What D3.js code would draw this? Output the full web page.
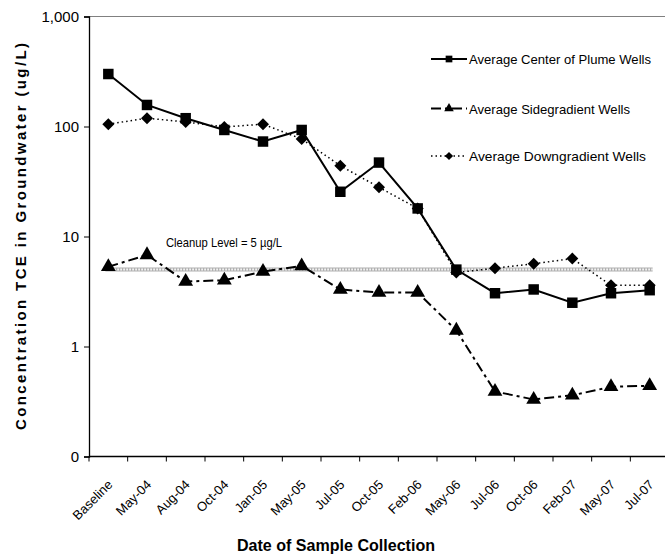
<!DOCTYPE html>
<html>
<head>
<meta charset="utf-8">
<script src="https://cdn.jsdelivr.net/npm/d3@7"></script>
<style>
    body { margin: 0; background: #fff; }
    svg { display: block; font-family: Arial, "Liberation Sans", sans-serif; }
</style>
</head>
<body>
<script>
"use strict";

var dates = ["Baseline", "May-04", "Aug-04", "Oct-04", "Jan-05", "May-05", "Jul-05", "Oct-05",
             "Feb-06", "May-06", "Jul-06", "Oct-06", "Feb-07", "May-07", "Jul-07"];

var centerPlume = [300, 157, 119, 93, 73, 93, 25.5, 47, 18, 5.0, 3.05, 3.3, 2.5, 3.05, 3.25];
var sidegradient = [5.3, 6.8, 3.9, 4.0, 4.8, 5.4, 3.3, 3.1, 3.1, 1.4, 0.39, 0.33, 0.36, 0.43, 0.44];
var downgradient = [105, 119, 110, 99, 105, 77, 44, 28, 18, 4.7, 5.15, 5.65, 6.3, 3.6, 3.6];

var cleanupLevel = 5;
var yTicks = [0.1, 1, 10, 100, 1000];
var yTickLabels = ["0", "1", "10", "100", "1,000"];

var width = 665,
    height = 556;

var svg = d3.select("body").append("svg")
    .attr("width", width)
    .attr("height", height);

var xScale = d3.scaleBand()
    .domain(dates)
    .range([89, 669])
    .padding(0);

var yScale = d3.scaleLog()
    .domain([0.1, 1000])
    .range([456.5, 16.5]);

function cx(d) {
    return xScale(d) + xScale.bandwidth() / 2;
}

// top border of the plot area
svg.append("line")
    .attr("x1", 89).attr("x2", width)
    .attr("y1", yScale(1000)).attr("y2", yScale(1000))
    .attr("stroke", "#808080")
    .attr("stroke-width", 1);

// y axis
var yAxis = d3.axisLeft(yScale)
    .tickValues(yTicks)
    .tickSize(5)
    .tickPadding(5)
    .tickFormat(function(d, i) { return yTickLabels[i]; });

var gy = svg.append("g")
    .attr("transform", "translate(89,0)")
    .call(yAxis);
gy.select(".domain").attr("stroke", "#000").attr("stroke-width", 1.3);
gy.selectAll(".tick line").attr("stroke", "#000");
gy.selectAll("text")
    .attr("font-size", 15)
    .attr("font-family", "Arial, 'Liberation Sans', sans-serif")
    .attr("fill", "#000");

// x axis: ticks between categories
var gx = svg.append("g")
    .attr("transform", "translate(0," + yScale(0.1) + ")");
gx.append("line")
    .attr("x1", 89).attr("x2", 669)
    .attr("y1", 0).attr("y2", 0)
    .attr("stroke", "#000")
    .attr("stroke-width", 1.3);
gx.selectAll(".xtick")
    .data(dates.concat(["end"]))
    .enter().append("line")
        .attr("class", "xtick")
        .attr("x1", function(d, i) { return i < dates.length ? xScale(d) : 669; })
        .attr("x2", function(d, i) { return i < dates.length ? xScale(d) : 669; })
        .attr("y1", 0).attr("y2", 5)
        .attr("stroke", "#000");
gx.selectAll(".xlabel")
    .data(dates)
    .enter().append("text")
        .attr("class", "xlabel")
        .attr("text-anchor", "end")
        .attr("font-size", 13)
        .attr("transform", function(d) {
            return "translate(" + (cx(d) + 5) + ",29) rotate(-45)";
        })
        .text(function(d) { return d; });

// axis titles
svg.append("text")
    .attr("text-anchor", "middle")
    .attr("font-weight", "bold")
    .attr("font-size", 15)
    .attr("transform", "translate(26,236.5) rotate(-90)")
    .attr("textLength", 387)
    .attr("lengthAdjust", "spacing")
    .text("Concentration TCE in Groundwater (ug/L)");

svg.append("text")
    .attr("x", 336)
    .attr("y", 551)
    .attr("text-anchor", "middle")
    .attr("font-weight", "bold")
    .attr("font-size", 16)
    .attr("textLength", 198)
    .attr("lengthAdjust", "spacingAndGlyphs")
    .text("Date of Sample Collection");

// cleanup level band
var cleanY = yScale(cleanupLevel);
svg.append("line")
    .attr("x1", cx(dates[0]) - 3).attr("x2", cx(dates[dates.length - 1]) + 3)
    .attr("y1", cleanY).attr("y2", cleanY)
    .attr("stroke", "#b0b0b0")
    .attr("stroke-width", 4);
svg.append("line")
    .attr("x1", cx(dates[0]) - 3).attr("x2", cx(dates[dates.length - 1]) + 3)
    .attr("y1", cleanY).attr("y2", cleanY)
    .attr("stroke", "#fff")
    .attr("stroke-width", 2)
    .attr("stroke-dasharray", "1.5,1.5");

svg.append("text")
    .attr("x", 166)
    .attr("y", 246.5)
    .attr("font-size", 13)
    .attr("textLength", 116)
    .attr("lengthAdjust", "spacingAndGlyphs")
    .text("Cleanup Level = 5 \u00b5g/L");

// series
var series = [
    { name: "Average Center of Plume Wells", values: centerPlume, dash: null, width: 2,
      symbol: d3.symbolSquare, size: 110, legendSize: 45, rotate: 0 },
    { name: "Average Sidegradient Wells", values: sidegradient, dash: "10,4,3,4", width: 2,
      symbol: d3.symbolTriangle, size: 95, legendSize: 40, rotate: 0 },
    { name: "Average Downgradient Wells", values: downgradient, dash: "1.5,3", width: 1.5,
      symbol: d3.symbolSquare, size: 72, legendSize: 34, rotate: 45 }
];

var line = d3.line()
    .x(function(d, i) { return cx(dates[i]); })
    .y(function(d) { return yScale(d); });

// draw downgradient first so plume squares sit on top
[2, 1, 0].forEach(function(k) {
    var s = series[k];
    svg.append("path")
        .datum(s.values)
        .attr("fill", "none")
        .attr("stroke", "#000")
        .attr("stroke-width", s.width)
        .attr("stroke-dasharray", s.dash)
        .attr("d", line);
    svg.selectAll(".m" + k)
        .data(s.values)
        .enter().append("path")
            .attr("class", "m" + k)
            .attr("fill", "#000")
            .attr("transform", function(d, i) {
                return "translate(" + cx(dates[i]) + "," + yScale(d) + ") rotate(" + s.rotate + ")";
            })
            .attr("d", d3.symbol().type(s.symbol).size(s.size));
});

// legend
var legendY = [59, 108.5, 156];
var legend = svg.selectAll(".legend")
    .data(series)
    .enter().append("g")
        .attr("class", "legend")
        .attr("transform", function(d, i) { return "translate(431," + legendY[i] + ")"; });
legend.append("line")
    .attr("x1", 0).attr("x2", 36)
    .attr("y1", 0).attr("y2", 0)
    .attr("stroke", "#000")
    .attr("stroke-width", function(d) { return d.width; })
    .attr("stroke-dasharray", function(d) { return d.dash; });
legend.append("path")
    .attr("transform", function(d) { return "translate(18,0) rotate(" + d.rotate + ")"; })
    .attr("d", function(d) { return d3.symbol().type(d.symbol).size(d.legendSize)(); });
legend.append("text")
    .attr("x", 38)
    .attr("y", 5)
    .attr("font-size", 13.5)
    .attr("textLength", function(d, i) { return [182, 161, 177][i]; })
    .attr("lengthAdjust", "spacingAndGlyphs")
    .text(function(d) { return d.name; });
</script>
</body>
</html>
